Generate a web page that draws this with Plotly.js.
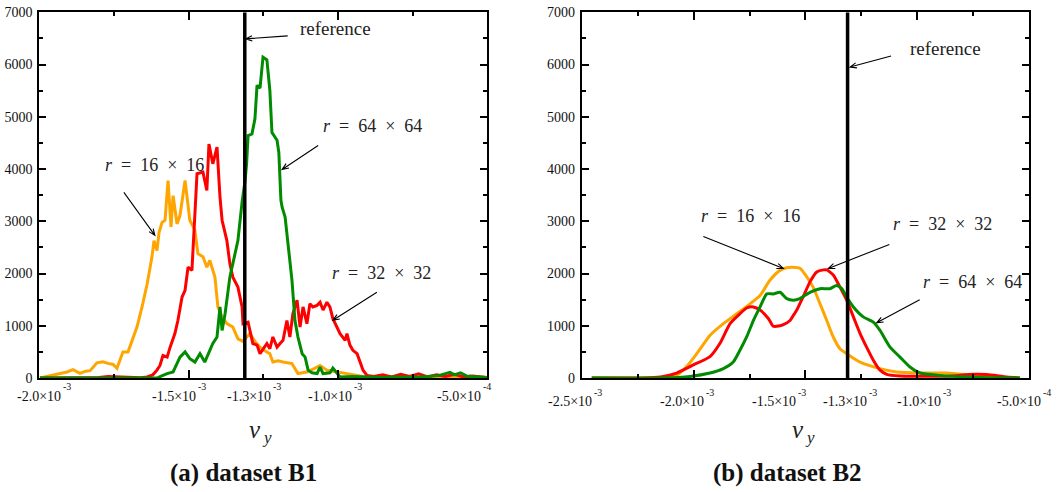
<!DOCTYPE html>
<html><head><meta charset="utf-8">
<script src="https://cdn.plot.ly/plotly-3.0.1.min.js"></script>
<style>body{margin:0;background:#fff}#chart{width:1058px;height:492px}</style>
</head><body><div id="chart"></div>
<script>
// v_y values are in units of 1e-3 (axis labelled with ×10^-3)
// ---- dataset B1 ----
const b1_r16_vy = [-1.998,-1.975,-1.954,-1.930,-1.907,-1.887,-1.864,-1.845,-1.830,-1.807,-1.787,-1.770,-1.753,-1.740,-1.730,-1.720,-1.703,-1.690,-1.673,-1.656,-1.639,-1.623,-1.616,-1.606,-1.599,-1.589,-1.579,-1.569,-1.559,-1.552,-1.539,-1.529,-1.512,-1.496,-1.479,-1.469,-1.452,-1.439,-1.429,-1.412,-1.402,-1.388,-1.372,-1.352,-1.335,-1.318,-1.295,-1.278,-1.261,-1.245,-1.228,-1.218,-1.200,-1.184,-1.154,-1.134,-1.104,-1.080,-1.060,-1.037,-1.003,-0.960,-0.916,-0.880,-0.840,-0.800,-0.760,-0.720,-0.680,-0.640,-0.600,-0.560,-0.520,-0.502];
const b1_r16_count = [0,30,65,90,115,160,90,130,140,290,310,280,260,185,340,500,500,720,975,1360,1800,2310,2630,2440,2790,2980,3020,3780,2890,3490,2950,3110,3780,3020,2830,2380,2320,2120,2250,1930,1360,1170,1040,975,750,700,850,700,590,520,465,305,330,305,275,85,115,180,240,150,115,70,30,20,10,25,10,15,5,15,5,10,5,5];

const b1_r32_vy = [-1.998,-1.900,-1.800,-1.770,-1.740,-1.720,-1.700,-1.660,-1.639,-1.620,-1.606,-1.596,-1.586,-1.572,-1.562,-1.546,-1.536,-1.522,-1.512,-1.502,-1.489,-1.485,-1.479,-1.472,-1.452,-1.439,-1.432,-1.419,-1.405,-1.395,-1.388,-1.372,-1.362,-1.352,-1.335,-1.321,-1.318,-1.301,-1.285,-1.271,-1.261,-1.238,-1.228,-1.218,-1.204,-1.194,-1.184,-1.171,-1.161,-1.151,-1.137,-1.127,-1.117,-1.104,-1.094,-1.084,-1.070,-1.060,-1.050,-1.037,-1.027,-1.017,-1.003,-0.993,-0.976,-0.970,-0.960,-0.950,-0.936,-0.926,-0.916,-0.903,-0.880,-0.850,-0.820,-0.790,-0.760,-0.730,-0.700,-0.670,-0.640,-0.610,-0.580,-0.550,-0.502];
const b1_r32_count = [0,0,10,30,20,25,5,5,20,60,150,240,430,400,590,850,1100,1550,1680,2120,2060,2410,3140,3910,3940,3590,4480,4100,4420,3460,3020,2630,2190,1930,1740,1360,1040,1070,660,630,465,660,560,785,590,660,720,1100,785,1230,1490,975,1360,1040,1420,1360,1390,1450,1300,1450,1360,1135,975,850,720,850,630,530,465,305,150,50,30,60,20,70,30,80,20,60,30,70,20,40,10];

const b1_r64_vy = [-1.998,-1.700,-1.620,-1.606,-1.590,-1.572,-1.552,-1.529,-1.512,-1.496,-1.479,-1.462,-1.446,-1.435,-1.419,-1.405,-1.395,-1.388,-1.378,-1.362,-1.345,-1.335,-1.321,-1.311,-1.306,-1.301,-1.288,-1.278,-1.271,-1.261,-1.251,-1.238,-1.228,-1.221,-1.204,-1.198,-1.191,-1.187,-1.177,-1.167,-1.154,-1.144,-1.134,-1.120,-1.110,-1.100,-1.087,-1.070,-1.060,-1.050,-1.027,-1.017,-1.003,-0.993,-0.950,-0.900,-0.850,-0.800,-0.750,-0.700,-0.660,-0.625,-0.610,-0.590,-0.570,-0.550,-0.502];
const b1_r64_count = [0,0,5,0,40,85,115,400,500,370,305,465,305,465,660,785,1360,910,1230,1930,2380,2630,3370,3780,4100,4640,4670,4960,5600,5550,6140,6090,5500,4700,4550,4320,3400,3270,3080,2510,1870,1100,785,465,400,150,100,85,210,85,100,190,85,20,30,20,10,20,15,30,50,110,60,100,40,30,10];

// ---- dataset B2 ----
const b2_r16_vy = [-2.455,-2.300,-2.195,-2.135,-2.076,-2.031,-1.986,-1.927,-1.867,-1.807,-1.748,-1.703,-1.659,-1.614,-1.584,-1.560,-1.525,-1.495,-1.466,-1.435,-1.405,-1.376,-1.346,-1.316,-1.256,-1.167,-1.092,-0.988,-0.869,-0.750,-0.662,-0.542];
const b2_r16_count = [0,0,5,15,50,220,465,815,1040,1230,1420,1580,1870,2060,2110,2120,2100,1940,1740,1420,1100,785,560,465,305,180,115,95,95,50,20,0];

const b2_r32_vy = [-2.455,-2.300,-2.195,-2.135,-2.076,-2.001,-1.927,-1.882,-1.837,-1.793,-1.763,-1.733,-1.703,-1.666,-1.644,-1.614,-1.599,-1.569,-1.554,-1.539,-1.510,-1.480,-1.450,-1.420,-1.405,-1.376,-1.346,-1.316,-1.286,-1.256,-1.227,-1.197,-1.167,-1.137,-1.078,-0.988,-0.869,-0.750,-0.690,-0.601,-0.542];
const b2_r32_count = [0,0,5,30,95,250,410,665,1040,1230,1340,1360,1300,1140,990,1000,1020,1100,1200,1300,1560,1840,2030,2070,2070,1970,1740,1490,1170,850,590,340,150,70,40,35,35,70,65,20,0];

const b2_r64_vy = [-2.455,-2.135,-2.016,-1.927,-1.867,-1.823,-1.793,-1.763,-1.733,-1.703,-1.673,-1.644,-1.614,-1.584,-1.554,-1.525,-1.480,-1.435,-1.391,-1.361,-1.338,-1.316,-1.286,-1.242,-1.197,-1.167,-1.122,-1.078,-1.033,-0.988,-0.899,-0.780,-0.662,-0.542];
const b2_r64_count = [0,0,30,95,180,305,530,785,1100,1360,1610,1610,1640,1520,1490,1520,1640,1710,1710,1770,1710,1550,1360,1170,1070,910,590,400,210,95,50,20,5,0];

const referenceVy = -1.312;

// x tick labels as printed in the figure: mantissa, exponent, and where they meet (v_y, 1e-3 units)
const b1_tickMain = ['-2.0×10','-1.5×10','-1.3×10','-1.0×10','-5.0×10'];
const b1_tickExp  = ['-3','-3','-3','-3','-4'];
const b1_tickPos  = [-1.925,-1.473,-1.222,-0.949,-0.519];
const b2_tickMain = ['-2.5×10','-2.0×10','-1.5×10','-1.3×10','-1.0×10','-5.0×10'];
const b2_tickExp  = ['-3','-3','-3','-3','-3','-4'];
const b2_tickPos  = [-2.448,-1.949,-1.539,-1.219,-0.891,-0.445];

const seriesNames = ['r = 16 × 16','r = 32 × 32','r = 64 × 64'];
const seriesColors = ['#ffa500','#ff0000','#008b00'];
const captions = ['(a) dataset B1','(b) dataset B2'];

const serif = 'Liberation Serif';
const NB = '\u00A0';
function rLabel(n){ return '<i>r</i>'+NB+NB+'='+NB+NB+n+NB+NB+'×'+NB+NB+n; }

function line(x,y,i,xa,ya,shape){
  return {x:x,y:y,xaxis:xa,yaxis:ya,type:'scatter',mode:'lines',name:seriesNames[i],
    line:{color:seriesColors[i],width:3,shape:shape||'linear',smoothing:0.6},showlegend:false,hoverinfo:'skip'};
}
const traces = [
  line(b1_r16_vy,b1_r16_count,0,'x','y'),
  line(b1_r32_vy,b1_r32_count,1,'x','y'),
  line(b1_r64_vy,b1_r64_count,2,'x','y'),
  line(b2_r16_vy,b2_r16_count,0,'x2','y2','spline'),
  line(b2_r32_vy,b2_r32_count,1,'x2','y2','spline'),
  line(b2_r64_vy,b2_r64_count,2,'x2','y2','spline')
];

const xdomA=[0.03715,0.46059], xrA=[-2.0,-0.5];
const xdomB=[0.54981,0.97288], xrB=[-2.5,-0.5];
function xax(domain,range,anchor){
  return {domain:domain,range:range,anchor:anchor,showgrid:false,zeroline:false,
    showline:true,linecolor:'black',linewidth:2,mirror:'ticks',
    ticks:'inside',ticklen:8,tickwidth:1.5,tickcolor:'black',
    tick0:range[0],dtick:0.5,showticklabels:false,
    minor:{dtick:0.25,tick0:range[0],ticks:'inside',ticklen:4,tickwidth:1.5,tickcolor:'black',showgrid:false}};
}
function yax(domain,anchor){
  return {domain:domain,range:[0,7000],anchor:anchor,showgrid:false,zeroline:false,
    showline:true,linecolor:'black',linewidth:2,mirror:'ticks',
    ticks:'inside',ticklen:7,tickwidth:1.5,tickcolor:'black',
    tick0:0,dtick:1000,ticklabelstandoff:2,
    tickfont:{family:serif,size:14,color:'#111'},
    minor:{dtick:500,ticks:'inside',ticklen:4,tickwidth:1.5,tickcolor:'black',showgrid:false}};
}
const ydom=[0.2317,0.975];
// value -> paper x through the axis' own linear mapping (domain/range)
function toPaper(v,dom,rng){ return dom[0]+(v-rng[0])/(rng[1]-rng[0])*(dom[1]-dom[0]); }
function pY(px){ return (492-px)/492; }

const ann = [];
const shapes = [
  {type:'line',xref:'x',yref:'y',x0:referenceVy,x1:referenceVy,y0:0,y1:7000,line:{color:'black',width:3.5},layer:'above'},
  {type:'line',xref:'x2',yref:'y2',x0:referenceVy,x1:referenceVy,y0:0,y1:7000,line:{color:'black',width:3.5},layer:'above'}
];
function tickLabels(main,exp,pos,dom,rng,yMain,yExp){
  main.forEach((t,i)=>{
    const px=toPaper(pos[i],dom,rng);
    ann.push({xref:'paper',yref:'paper',x:px,y:pY(yMain),text:t,showarrow:false,xanchor:'right',yanchor:'middle',
      borderpad:0,font:{family:serif,size:14,color:'#111'}});
    ann.push({xref:'paper',yref:'paper',x:px,y:pY(yExp),text:exp[i],showarrow:false,xanchor:'left',yanchor:'middle',
      borderpad:0,font:{family:serif,size:10,color:'#111'}});
  });
}
tickLabels(b1_tickMain,b1_tickExp,b1_tickPos,xdomA,xrA,396,386.5);
tickLabels(b2_tickMain,b2_tickExp,b2_tickPos,xdomB,xrB,401,392);

function label(xr,yr,x,y,t,sz){ ann.push({xref:xr,yref:yr,x:x,y:y,text:t,showarrow:false,xanchor:'center',yanchor:'middle',font:{family:serif,size:sz||18,color:'#222'}}); }
// arrow: head at data (x,y); tail offset (ax,ay) in screen pixels (y down)
function arrow(xr,yr,x,y,ax,ay){
  const tx=ax, ty=-ay;
  const L=Math.hypot(tx,ty), ux=tx/L, uy=ty/L;
  const hl=7, a=0.38, c=Math.cos(a), s=Math.sin(a);
  const w1x=hl*(ux*c-uy*s), w1y=hl*(ux*s+uy*c);
  const w2x=hl*(ux*c+uy*s), w2y=hl*(-ux*s+uy*c);
  const f=v=>v.toFixed(2);
  shapes.push({type:'path',xref:xr,yref:yr,xsizemode:'pixel',ysizemode:'pixel',xanchor:x,yanchor:y,
    path:`M${f(tx)},${f(ty)} L0,0 M${f(w1x)},${f(w1y)} L0,0 L${f(w2x)},${f(w2y)}`,
    line:{color:'black',width:1.1},layer:'above'});
}

// panel (a)
label('x','y',-1.008,6689,'reference',19); arrow('x','y',-1.309,6492,42,-3);
label('x','y',-0.883,4815,rLabel(64)); arrow('x','y',-1.187,3992,36,-24);
label('x','y',-1.613,4069,rLabel(16)); arrow('x','y',-1.613,2730,-31,-43);
label('x','y',-0.853,2008,rLabel(32)); arrow('x','y',-1.017,1105,44,-28);
// panel (b)
label('x2','y2',-0.874,6310,'reference',19); arrow('x2','y2',-1.301,5952,41,-11);
label('x2','y2',-1.744,3098,rLabel(16)); arrow('x2','y2',-1.599,2097,-80,-32);
label('x2','y2',-0.888,2945,rLabel(32)); arrow('x2','y2',-1.398,2097,61,-24);
label('x2','y2',-0.756,1841,rLabel(64)); arrow('x2','y2',-1.182,1057,43,-23);

// axis titles v_y (v with subscript y) and captions
[[255,267],[798,810]].forEach(p=>{
  ann.push({xref:'paper',yref:'paper',x:p[0]/1058,y:pY(429),text:'<i>v</i>',showarrow:false,xanchor:'center',yanchor:'middle',font:{family:serif,size:25,color:'#222'}});
  ann.push({xref:'paper',yref:'paper',x:p[1]/1058,y:pY(437),text:'<i>y</i>',showarrow:false,xanchor:'center',yanchor:'middle',font:{family:serif,size:17,color:'#222'}});
});
ann.push({xref:'paper',yref:'paper',x:0.2297,y:pY(473),text:'<b>'+captions[0]+'</b>',showarrow:false,xanchor:'center',yanchor:'middle',font:{family:serif,size:25,color:'#111'}});
ann.push({xref:'paper',yref:'paper',x:0.7439,y:pY(473),text:'<b>'+captions[1]+'</b>',showarrow:false,xanchor:'center',yanchor:'middle',font:{family:serif,size:25,color:'#111'}});

const layout = {
  width:1058,height:492,margin:{l:0,r:0,t:0,b:0},paper_bgcolor:'white',plot_bgcolor:'white',
  showlegend:false,font:{family:serif,color:'#111'},
  xaxis:xax(xdomA,xrA,'y'),
  yaxis:yax(ydom,'x'),
  xaxis2:xax(xdomB,xrB,'y2'),
  yaxis2:yax(ydom,'x2'),
  shapes:shapes,
  annotations:ann
};
Plotly.newPlot('chart',traces,layout,{displayModeBar:false});
</script></body></html>
